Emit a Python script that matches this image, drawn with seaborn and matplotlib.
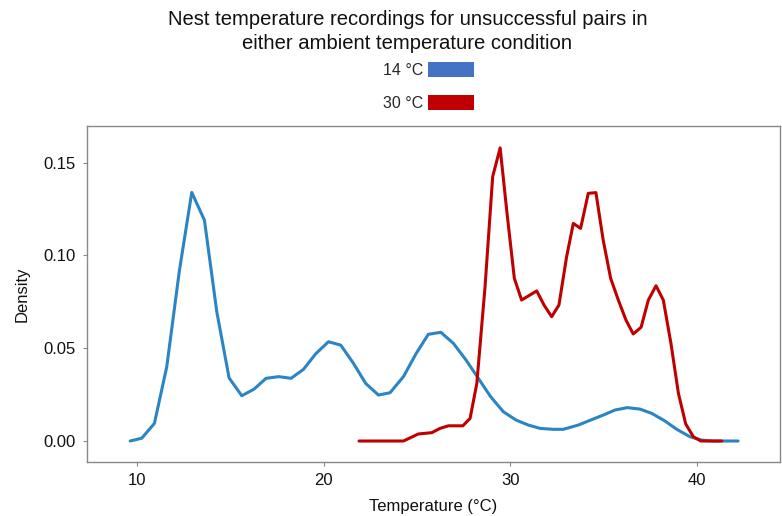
import numpy as np
import pandas as pd
import matplotlib
matplotlib.use("Agg")
import matplotlib.pyplot as plt
import matplotlib.patches as mpatches
import seaborn as sns

# ---- data ----
temp_14 = [9.63, 10.25, 10.93, 11.59, 12.27, 12.93, 13.61, 14.27, 14.93, 15.61, 16.27, 16.91,
           17.59, 18.25, 18.91, 19.57, 20.25, 20.91, 21.59, 22.25, 22.93, 23.55, 24.27, 24.94,
           25.60, 26.27, 26.94, 27.62, 28.28, 28.94, 29.62, 30.30, 30.96, 31.59, 32.30, 32.83,
           33.64, 34.30, 34.98, 35.60, 36.26, 36.94, 37.57, 38.28, 38.91, 39.62, 40.25, 40.87,
           41.60, 42.20]
dens_14 = [0.0, 0.0015, 0.0095, 0.040, 0.092, 0.134, 0.119, 0.0697, 0.034, 0.0244, 0.028, 0.0338,
           0.0347, 0.0338, 0.0386, 0.047, 0.0535, 0.0517, 0.0419, 0.031, 0.0248, 0.026, 0.0347, 0.047,
           0.0575, 0.0586, 0.0527, 0.0437, 0.0338, 0.0239, 0.0158, 0.0113, 0.0086, 0.0068, 0.0063, 0.0063,
           0.0086, 0.0113, 0.014, 0.0167, 0.018, 0.0172, 0.0149, 0.0108, 0.0063, 0.0023, 0.0005, 0.0,
           0.0, 0.0]

temp_30 = [21.89, 24.27, 25.07, 25.79, 26.23, 26.68, 27.45, 27.84, 28.20, 28.64, 29.05, 29.45,
           29.80, 30.21, 30.60, 31.41, 31.80, 32.21, 32.60, 33.01, 33.37, 33.76, 34.17, 34.58,
           34.97, 35.37, 35.78, 36.19, 36.58, 37.00, 37.39, 37.80, 38.19, 38.60, 39.00, 39.39,
           39.80, 40.20, 41.32]
dens_30 = [0.0, 0.0, 0.0038, 0.0045, 0.0068, 0.0082, 0.0082, 0.0122, 0.031, 0.083, 0.1425, 0.158,
           0.1245, 0.0877, 0.076, 0.0809, 0.0733, 0.067, 0.0733, 0.0993, 0.1173, 0.1146, 0.1335, 0.1339,
           0.1083, 0.0877, 0.076, 0.0652, 0.0577, 0.0613, 0.076, 0.0837, 0.076, 0.0526, 0.0257, 0.0092,
           0.0023, 0.0, 0.0]

labels = ["14 °C", "30 °C"]
line_colors = ["#2b84c4", "#c00000"]
patch_colors = ["#4472c4", "#c00000"]
x_ticks = [10, 20, 30, 40]
y_ticks = [0.00, 0.05, 0.10, 0.15]

df = pd.concat([
    pd.DataFrame({"Temperature": temp_14, "Density": dens_14, "Condition": labels[0]}),
    pd.DataFrame({"Temperature": temp_30, "Density": dens_30, "Condition": labels[1]}),
], ignore_index=True)

sns.set_style("white")
plt.rcParams["font.family"] = ["Liberation Sans", "DejaVu Sans"]

fig = plt.figure(figsize=(7.82, 5.16), dpi=100)
ax = fig.add_axes([0.1113, 0.1047, 0.9974 - 0.1113, 0.7558 - 0.1047])

sns.lineplot(data=df, x="Temperature", y="Density", hue="Condition",
             palette=dict(zip(labels, line_colors)), hue_order=labels,
             linewidth=2.2, legend=False, sort=True, estimator=None, ax=ax)

ax.set_xlim(7.32, 44.44)
ax.set_ylim(-0.0113, 0.1698)
ax.set_xticks(x_ticks)
ax.set_xticklabels([str(t) for t in x_ticks])
ax.set_yticks(y_ticks)
ax.set_yticklabels([f"{t:.2f}" for t in y_ticks])
ax.tick_params(axis="both", which="both", length=3, width=0.8, color="#888888",
               labelsize=12, labelcolor="#111111", direction="out",
               bottom=True, left=True)
ax.tick_params(axis="x", pad=5)
ax.tick_params(axis="y", pad=5)
for s in ax.spines.values():
    s.set_color("#888888")
    s.set_linewidth(1.0)
    s.set_visible(True)
ax.set_xlabel("Temperature (°C)", fontsize=12, color="#111111", labelpad=8)
ax.set_ylabel("Density", fontsize=12, color="#111111", labelpad=10)

fig.text(0.521, 0.981, "Nest temperature recordings for unsuccessful pairs in\neither ambient temperature condition",
         ha="center", va="top", fontsize=14.6, color="#111111", linespacing=1.36)

handles = [mpatches.Patch(facecolor=c, edgecolor="none", label=l) for c, l in zip(patch_colors, labels)]
fig.legend(handles=handles, loc="center", bbox_to_anchor=(0.548, 0.832), frameon=False,
           markerfirst=False, fontsize=11.5, handlelength=2.9, handleheight=1.0,
           labelspacing=1.1, handletextpad=0.3)

fig.savefig("out.png", dpi=100)
